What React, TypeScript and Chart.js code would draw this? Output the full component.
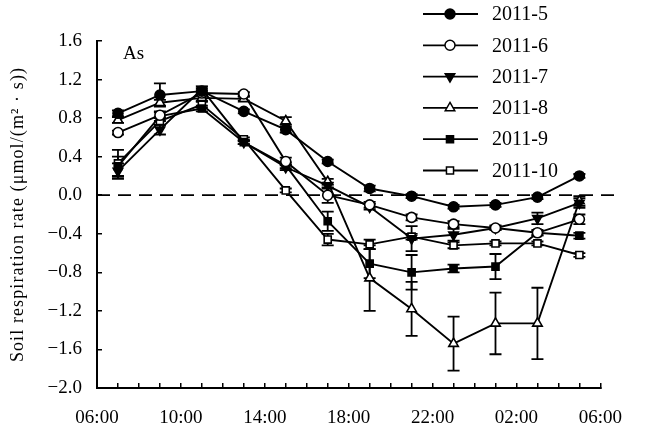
import React, { useEffect, useRef } from 'react';
import { Chart, registerables } from 'chart.js';
import { drawPoint } from 'chart.js/helpers';

Chart.register(...registerables);

// Hours since 00:00 of day 1 (25 = 01:00 next day, etc.)
const hours = [7, 9, 11, 13, 15, 17, 19, 21, 23, 25, 27, 29];

const seriesNames = ['2011-5', '2011-6', '2011-7', '2011-8', '2011-9', '2011-10'];

const s5 = [0.85, 1.04, 1.08, 0.87, 0.68, 0.35, 0.07, -0.01, -0.12, -0.10, -0.02, 0.20];
const s6 = [0.65, 0.83, 1.06, 1.05, 0.35, 0.00, -0.10, -0.23, -0.30, -0.34, -0.39, -0.25];
const s7 = [0.25, 0.68, 1.10, 0.55, 0.29, 0.10, -0.12, -0.45, -0.41, -0.34, -0.24, -0.08];
const s8 = [0.78, 0.96, 1.01, 1.00, 0.77, 0.14, -0.86, -1.18, -1.54, -1.33, -1.33, -0.06];
const s9 = [0.30, 0.82, 0.90, 0.55, 0.31, -0.27, -0.71, -0.80, -0.76, -0.74, -0.39, -0.42];
const s10 = [0.33, 0.77, 0.94, 0.58, 0.05, -0.46, -0.51, -0.43, -0.52, -0.50, -0.50, -0.62];

const e5 = [0.03, 0.12, 0.03, 0.02, 0.03, 0.02, 0.03, 0.02, 0.02, 0.02, 0.02, 0.02];
const e6 = [0.02, 0.03, 0.03, 0.02, 0.04, 0.08, 0.03, 0.03, 0.03, 0.02, 0.02, 0.05];
const e7 = [0.08, 0.05, 0.03, 0.02, 0.03, 0.03, 0.03, 0.13, 0.06, 0.02, 0.06, 0.05];
const e8 = [0.03, 0.03, 0.03, 0.02, 0.04, 0.03, 0.34, 0.28, 0.28, 0.32, 0.37, 0.05];
const e9 = [0.10, 0.05, 0.03, 0.02, 0.03, 0.10, 0.15, 0.18, 0.04, 0.13, 0.03, 0.03];
const e10 = [0.14, 0.04, 0.03, 0.02, 0.02, 0.06, 0.05, 0.03, 0.03, 0.02, 0.02, 0.02];

const yTicksMin = -2.0;
const yTicksMax = 1.6;
const yStep = 0.4;
const xMin = 6;
const xMax = 30;
const zeroLine = [0, 0];
const zeroLineX = [6, 30.7];

const yTitle = 'Soil respiration rate (\u03bcmol/(m\u00b2 \u00b7 s))';
const panelLabel = 'As';

const FONT = '"Liberation Serif", "Times New Roman", serif';

const styles = [
  { pointStyle: 'circle', fill: '#000', rotation: 0, radius: 5 },
  { pointStyle: 'circle', fill: '#fff', rotation: 0, radius: 5 },
  { pointStyle: 'triangle', fill: '#000', rotation: 180, radius: 5.5 },
  { pointStyle: 'triangle', fill: '#fff', rotation: 0, radius: 5.5 },
  { pointStyle: 'rect', fill: '#000', rotation: 0, radius: 5 },
  { pointStyle: 'rect', fill: '#fff', rotation: 0, radius: 5 },
];

const allSeries = [s5, s6, s7, s8, s9, s10];
const allErrors = [e5, e6, e7, e8, e9, e10];

const errorBarPlugin = {
  id: 'errorBars',
  beforeDatasetsDraw(chart: any) {
    const ctx = chart.ctx;
    const xs = chart.scales.x;
    const ys = chart.scales.y;
    ctx.save();
    ctx.strokeStyle = '#000';
    ctx.lineWidth = 1.8;
    chart.data.datasets.forEach((ds: any) => {
      if (!ds.errors) return;
      ds.data.forEach((p: any, i: number) => {
        const e = ds.errors[i];
        if (!e) return;
        const px = xs.getPixelForValue(p.x);
        const top = ys.getPixelForValue(p.y + e);
        const bot = ys.getPixelForValue(p.y - e);
        ctx.beginPath();
        ctx.moveTo(px, top);
        ctx.lineTo(px, bot);
        ctx.moveTo(px - 6, top);
        ctx.lineTo(px + 6, top);
        ctx.moveTo(px - 6, bot);
        ctx.lineTo(px + 6, bot);
        ctx.stroke();
      });
    });
    ctx.restore();
  },
};

const decorPlugin = {
  id: 'decor',
  afterDraw(chart: any) {
    const ctx = chart.ctx;
    const area = chart.chartArea;
    ctx.save();
    // y-axis title
    ctx.translate(18, (area.top + area.bottom) / 2);
    ctx.rotate(-Math.PI / 2);
    ctx.font = '18px ' + FONT;
    try { (ctx as any).letterSpacing = '1.1px'; } catch (e) {}
    ctx.fillStyle = '#000';
    ctx.textAlign = 'center';
    ctx.textBaseline = 'middle';
    ctx.fillText(yTitle, 0, 0);
    ctx.restore();

    ctx.save();
    try { (ctx as any).letterSpacing = '0px'; } catch (e) {}
    ctx.fillStyle = '#000';
    ctx.font = '19px ' + FONT;
    ctx.textAlign = 'left';
    ctx.textBaseline = 'middle';
    ctx.fillText(panelLabel, area.left + 26, area.top + 13);

    // legend
    const lx0 = 423, lx1 = 478, mx = 450, tx = 492;
    ctx.font = '20px ' + FONT;
    seriesNames.forEach((name, i) => {
      const y = 14 + i * 31.3;
      ctx.strokeStyle = '#000';
      ctx.lineWidth = 1.8;
      ctx.beginPath();
      ctx.moveTo(lx0, y);
      ctx.lineTo(lx1, y);
      ctx.stroke();
      const st = styles[i];
      ctx.fillStyle = st.fill;
      ctx.strokeStyle = '#000';
      ctx.lineWidth = 1.5;
      drawPoint(ctx, { pointStyle: st.pointStyle as any, radius: st.radius, rotation: st.rotation, borderWidth: 1.5 }, mx, y);
      ctx.fillStyle = '#000';
      ctx.textAlign = 'left';
      ctx.textBaseline = 'middle';
      ctx.fillText(name, tx, y + 1);
    });
    ctx.restore();
  },
};

function fmtHour(v: number): string {
  const h = ((v % 24) + 24) % 24;
  return (h < 10 ? '0' : '') + h + ':00';
}

export default function App() {
  const ref = useRef<HTMLCanvasElement | null>(null);
  useEffect(() => {
    if (!ref.current) return;
    const datasets: any[] = allSeries.map((vals, i) => ({
      label: seriesNames[i],
      data: hours.map((h, j) => ({ x: h, y: vals[j] })),
      errors: allErrors[i],
      borderColor: '#000',
      borderWidth: 1.9,
      pointStyle: styles[i].pointStyle,
      pointRotation: styles[i].rotation,
      pointRadius: styles[i].radius,
      pointBackgroundColor: styles[i].fill,
      pointBorderColor: '#000',
      pointBorderWidth: 1.6,
      tension: 0,
      fill: false,
    }));
    datasets.push({
      label: 'zero',
      data: zeroLineX.map((x, j) => ({ x, y: zeroLine[j] })),
      borderColor: '#000',
      borderWidth: 1.8,
      borderDash: [13, 8],
      pointRadius: 0,
      clip: false,
      fill: false,
    });
    const chart = new Chart(ref.current, {
      type: 'line',
      data: { datasets },
      options: {
        animation: false,
        responsive: false,
        devicePixelRatio: 1,
        layout: { padding: { top: 41, right: 22, left: 0, bottom: 0 } },
        plugins: { legend: { display: false }, tooltip: { enabled: false }, title: { display: false } },
        scales: {
          x: {
            type: 'linear',
            min: xMin,
            max: xMax,
            afterFit: (s: any) => { s.height = 44; },
            ticks: {
              stepSize: 1,
              autoSkip: false,
              maxRotation: 0,
              minRotation: 0,
              padding: 24,
              color: '#000',
              font: { family: FONT, size: 19 },
              callback: (v: any) => ((Number(v) - 6) % 4 === 0 ? fmtHour(Number(v)) : ''),
            },
            grid: { drawOnChartArea: false, drawTicks: true, tickLength: -5, color: '#000', lineWidth: 1.5 },
            border: { display: true, color: '#000', width: 2 },
          },
          y: {
            type: 'linear',
            min: yTicksMin,
            max: yTicksMax,
            afterFit: (s: any) => { s.width = 97; },
            ticks: {
              stepSize: yStep,
              padding: 20,
              color: '#000',
              font: { family: FONT, size: 19 },
              callback: (v: any) => Number(v).toFixed(1).replace('-', '\u2212').replace('\u22120.0', '0.0'),
            },
            grid: { drawOnChartArea: false, drawTicks: true, tickLength: -5, color: '#000', lineWidth: 1.5 },
            border: { display: true, color: '#000', width: 2 },
          },
        },
      },
      plugins: [errorBarPlugin, decorPlugin],
    } as any);
    return () => chart.destroy();
  }, []);
  return (
    <div style={{ position: 'fixed', left: 0, top: 0, width: 646, height: 432, background: '#fff' }}>
      <canvas ref={ref} width={646} height={432} />
    </div>
  );
}
